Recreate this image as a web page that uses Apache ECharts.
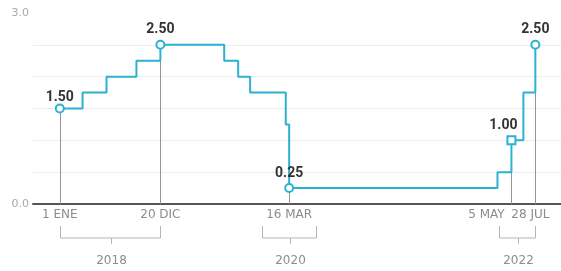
<!DOCTYPE html>
<html>
<head>
<meta charset="utf-8">
<script src="https://cdn.jsdelivr.net/npm/echarts@6/dist/echarts.min.js"></script>
<style>
    html, body { margin: 0; padding: 0; background: #fff; }
    #rateChart { width: 561px; height: 271px; }
</style>
</head>
<body>
<div id="rateChart"></div>
<script>
// tasa: fechas efectivas de cada cambio y su valor
const rateDates = ['2018-01-01', '2018-03-22', '2018-06-14', '2018-09-27', '2018-12-20',
    '2019-08-01', '2019-09-19', '2019-10-31', '2020-03-04', '2020-03-16',
    '2022-03-17', '2022-05-05', '2022-06-16', '2022-07-28'];
const rateValues = [1.50, 1.75, 2.00, 2.25, 2.50, 2.25, 2.00, 1.75, 1.25, 0.25, 0.50, 1.00, 1.75, 2.50];

// fechas destacadas
const keyDates = ['2018-01-01', '2018-12-20', '2020-03-16', '2022-05-05', '2022-07-28'];
const keyLabels = ['1 ENE', '20 DIC', '16 MAR', '5 MAY', '28 JUL'];

// llaves de año bajo el eje
const yearLabels = ['2018', '2020', '2022'];
const yearStarts = ['2018-01-01', '2019-12-12', '2022-03-24'];
const yearEnds = ['2018-12-20', '2020-06-19', '2022-07-28'];

const yTicks = [0, 3];

window.onload = () => {
    new RateChartVm().main();
};

class RateChartVm {
    chart;

    main() {
        this.chart = echarts.init(document.getElementById('rateChart'));
        this.chart.setOption(this.buildOption());
    }

    ts(s) {
        let p = s.split('-').map(Number);
        return Date.UTC(p[0], p[1] - 1, p[2]);
    }

    buildOption() {
        let keyTs = keyDates.map(d => this.ts(d));
        let lineColor = '#2bb2d2';
        let font = 'Roboto';
        let axisFont = 'DejaVu Sans';

        let seriesData = rateDates.map((d, i) => {
            let t = this.ts(d);
            let item = { value: [t, rateValues[i]] };
            let k = keyTs.indexOf(t);
            if (k >= 0) {
                let offset = [0, 0];
                if (k === 0) offset = [0, 4];
                if (k === 3) offset = [-8, 0];
                item.symbol = k === 3 ? 'rect' : 'circle';
                item.label = { show: true, offset: offset };
            }
            return item;
        });

        let dropLines = keyTs.map(t => {
            let v = rateValues[rateDates.findIndex(d => this.ts(d) === t)];
            return [{ coord: [t, v] }, { coord: [t, 0] }];
        });

        let brackets = yearLabels.map((y, i) => [this.ts(yearStarts[i]), this.ts(yearEnds[i])]);

        return {
            animation: false,
            grid: { left: 33, right: 0, top: 13, bottom: 67 },
            xAxis: {
                type: 'value',
                min: this.ts('2017-09-29'),
                max: this.ts('2022-10-26'),
                axisLine: { lineStyle: { color: '#555', width: 2 } },
                axisTick: { show: false },
                splitLine: { show: false },
                axisLabel: {
                    customValues: keyTs,
                    margin: 5,
                    color: '#8c8c8c',
                    fontFamily: axisFont,
                    fontSize: 12,
                    formatter: val => {
                        let k = keyTs.indexOf(val);
                        if (k === 3) return '{l|' + keyLabels[k] + '}';
                        if (k === 4) return '{m|' + keyLabels[k] + '}';
                        return k >= 0 ? keyLabels[k] : '';
                    },
                    rich: {
                        l: { color: '#8c8c8c', fontFamily: axisFont, fontSize: 12, padding: [0, 50, 0, 0] },
                        m: { color: '#8c8c8c', fontFamily: axisFont, fontSize: 12, padding: [0, 10, 0, 0] }
                    }
                }
            },
            yAxis: {
                type: 'value',
                min: 0,
                max: 3,
                interval: 0.5,
                axisLine: { show: false },
                axisTick: { show: false },
                splitLine: { showMaxLine: false, lineStyle: { color: '#ededed', width: 1 } },
                axisLabel: {
                    margin: 4,
                    color: '#aaaaaa',
                    fontFamily: axisFont,
                    fontSize: 11,
                    formatter: val => yTicks.includes(val) ? val.toFixed(1) : ''
                }
            },
            series: [
                {
                    type: 'line',
                    step: 'end',
                    data: seriesData,
                    symbol: 'none',
                    symbolSize: 8,
                    showSymbol: true,
                    z: 5,
                    lineStyle: { color: lineColor, width: 2 },
                    itemStyle: { color: '#fff', borderColor: lineColor, borderWidth: 2 },
                    label: {
                        show: false,
                        position: 'top',
                        distance: 3,
                        color: '#333',
                        fontFamily: font,
                        fontWeight: 'bold',
                        fontSize: 14,
                        formatter: p => p.value[1].toFixed(2)
                    },
                    markLine: {
                        silent: true,
                        symbol: 'none',
                        label: { show: false },
                        lineStyle: { color: '#959595', width: 1, type: 'solid' },
                        data: dropLines
                    }
                },
                {
                    type: 'custom',
                    silent: true,
                    data: brackets,
                    encode: { x: [0, 1] },
                    renderItem: (params, api) => {
                        let p1 = api.coord([api.value(0), 0]);
                        let p2 = api.coord([api.value(1), 0]);
                        let x1 = Math.round(p1[0]) + 0.5;
                        let x2 = Math.round(p2[0]) + 0.5;
                        let xm = Math.round((x1 + x2) / 2) + 0.5;
                        let y0 = p1[1];
                        let stroke = { stroke: '#b5b5b5', lineWidth: 1, fill: null };
                        return {
                            type: 'group',
                            children: [
                                {
                                    type: 'polyline',
                                    shape: { points: [[x1, y0 + 22], [x1, y0 + 34], [x2, y0 + 34], [x2, y0 + 22]] },
                                    style: stroke
                                },
                                {
                                    type: 'line',
                                    shape: { x1: xm, y1: y0 + 34, x2: xm, y2: y0 + 40 },
                                    style: stroke
                                },
                                {
                                    type: 'text',
                                    x: xm,
                                    y: y0 + 57,
                                    style: {
                                        text: yearLabels[params.dataIndex],
                                        fill: '#8c8c8c',
                                        font: '12px "DejaVu Sans"',
                                        align: 'center',
                                        verticalAlign: 'middle'
                                    }
                                }
                            ]
                        };
                    }
                }
            ]
        };
    }
}
</script>
</body>
</html>
